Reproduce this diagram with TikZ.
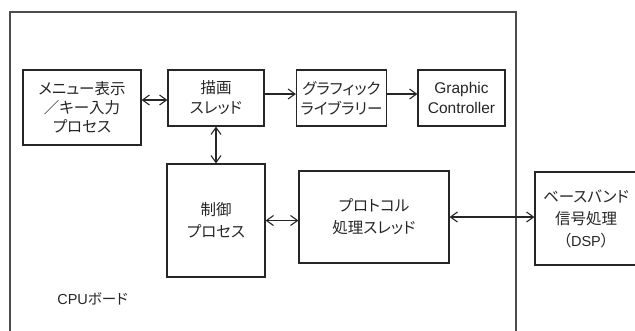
\documentclass[tikz,border=0pt]{standalone}
\usepackage{fontspec}
\setmainfont{Liberation Sans}
\newfontfamily\jp[RawFeature=+palt]{Noto Sans CJK JP}
\newfontfamily\lat{Liberation Sans}
\usetikzlibrary{arrows.meta}
\tikzset{
  box/.style={draw=black!85, line width=1.1pt, rectangle, align=center, inner sep=0pt,
    font=\jp\fontsize{15.5}{19}\selectfont, text=black!85},
  txt/.style={align=center, inner sep=0pt, font=\jp\fontsize{15.5}{19}\selectfont, text=black!85},
  conn/.style={line width=1.1pt, draw=black!85, arrows={-Straight Barb[length=7pt,width=10pt]}},
  bconn/.style={line width=1.1pt, draw=black!85, arrows={Straight Barb[length=7pt,width=10pt]-Straight Barb[length=7pt,width=10pt]}},
  frame/.style={line width=1.3pt, draw=black!70}
}
\begin{document}
\begin{tikzpicture}[x=1pt,y=-1pt]
\useasboundingbox (0,0) rectangle (635,330);
\clip (0,0) rectangle (635,330);
\fill[white] (0,0) rectangle (635,330);
% CPU board frame
\draw[frame] (10,340) -- (10,12) -- (516,12) -- (516,340);
\node[txt, font=\jp\fontsize{14.5}{18}\selectfont] (cpu) at (92.5,299) {{\lat\fontsize{14.5}{18}\selectfont CPU}ボード};
% boxes
\node[box, minimum width=118, minimum height=75] (menu) at (82,107.5) {メニュー表示\\／キー入力\\プロセス};
\node[box, minimum width=96, minimum height=56, font=\jp\fontsize{15.5}{20}\selectfont] (ddraw) at (216,98) {描画\\スレッド};
\node[box, minimum width=90, minimum height=56, font=\jp\fontsize{15.5}{20}\selectfont] (glib) at (341.5,98) {グラフィック\\ライブラリー};
\node[box, minimum width=87, minimum height=56, font=\lat\fontsize{15.5}{20}\selectfont] (gc) at (461.5,98) {Graphic\\Controller};
\node[box, minimum width=98, minimum height=113, font=\jp\fontsize{15.5}{22}\selectfont] (ctrl) at (216,220.5) {制御\\プロセス};
\node[box, minimum width=150, minimum height=92, font=\jp\fontsize{15.5}{22}\selectfont] (proto) at (374,217) {プロトコル\\処理スレッド};
\node[box, minimum width=110, minimum height=93] (dsp) at (590,218.5) {};
\node[txt, font=\jp\fontsize{15.5}{22}\selectfont] (dspt) at (586,219) {ベースバンド\\信号処理\\（{\lat\fontsize{14.5}{19}\selectfont DSP}）};
% connectors
\coordinate (ay1) at (0,100);
\coordinate (ay2) at (0,94);
\draw[bconn] (menu.east |- ay1) -- (ddraw.west |- ay1);
\draw[conn] (ddraw.east |- ay2) -- (glib.west |- ay2);
\draw[conn] (glib.east |- ay2) -- (gc.west |- ay2);
\draw[bconn] (ddraw.south) -- (ctrl.north);
\draw[bconn] (ctrl.east) -- (proto.west |- ctrl.east);
\draw[bconn] (proto.east) -- (dsp.west |- proto.east);
\end{tikzpicture}
\end{document}
